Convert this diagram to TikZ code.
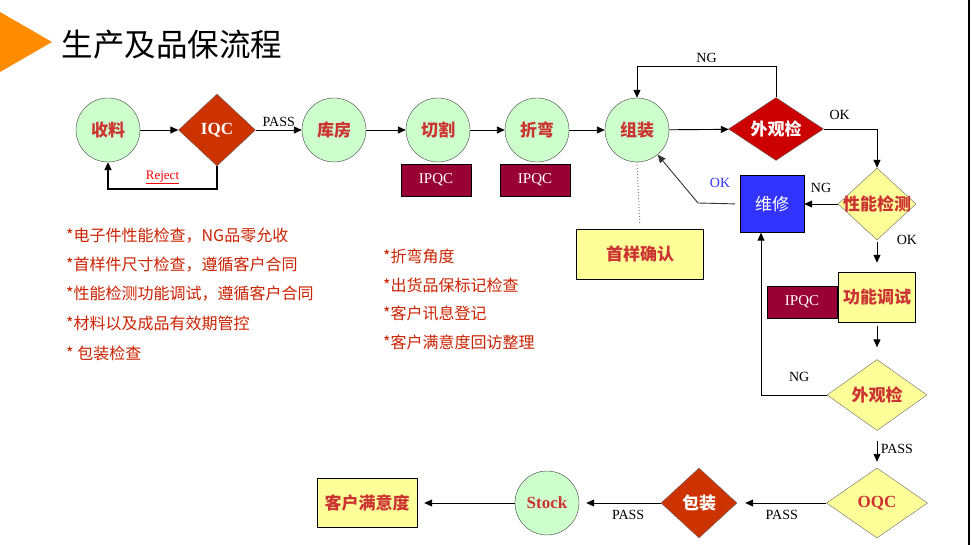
\documentclass[tikz,border=0pt]{standalone}
\usepackage{fontspec}
\setmainfont{Liberation Serif}
\newfontfamily\cjk{Noto Sans CJK SC}
\usetikzlibrary{shapes.geometric,arrows.meta}

\definecolor{titleorange}{HTML}{FF8C00}
\definecolor{stationgreen}{HTML}{CCFFCC}
\definecolor{nodered}{HTML}{CC3333}
\definecolor{rustred}{HTML}{CC3300}
\definecolor{brightred}{HTML}{CC0000}
\definecolor{paleyellow}{HTML}{FFFF99}
\definecolor{repairblue}{HTML}{3333FF}
\definecolor{ipqcred}{HTML}{990033}
\definecolor{notered}{HTML}{CC2200}
\definecolor{rejectred}{HTML}{FF0000}

\begin{document}
\begin{tikzpicture}[x=1pt, y=-1pt,
    arr/.style={-{Triangle[length=8pt,width=7pt]}, line width=0.9pt},
    station/.style={circle, draw=black!75, fill=stationgreen, minimum size=64pt, inner sep=0pt,
        text=nodered, font=\cjk\bfseries\fontsize{17}{17}\selectfont},
    decision/.style={diamond, draw=black!60, inner sep=0pt,
        text=nodered, font=\cjk\bfseries\fontsize{17}{17}\selectfont},
    box/.style={rectangle, draw=black, inner sep=0pt,
        text=nodered, font=\cjk\bfseries\fontsize{17}{17}\selectfont},
    ipqc/.style={rectangle, draw=black, fill=ipqcred, minimum width=70pt, minimum height=32pt,
        inner sep=0pt, text=white, font=\fontsize{15}{15}\selectfont},
    lab/.style={font=\fontsize{14}{14}\selectfont},
    note/.style={anchor=west, inner sep=0pt, text=notered, font=\cjk\fontsize{16}{16}\selectfont}]
                    % Frame
                    \fill[white] (0,0) rectangle (971,545);
                    \useasboundingbox (0,0) rectangle (971,545);
                    \fill[titleorange] (0,12) -- (52,42) -- (0,72) -- cycle;
                    \draw[line width=1.5pt] (969,0) -- (969,545);
                    \node[anchor=west, font=\cjk\fontsize{31.5}{31.5}\selectfont] (title) at (58,45) {生产及品保流程};
                    % Nodes
                    \node[station] (shouliao) at (108,130) {收料};
                    \node[decision, fill=rustred, minimum width=77pt, minimum height=72pt, text=white,
                        font=\bfseries\fontsize{17}{17}\selectfont] (iqc) at (217,130) {\makebox[0pt]{IQC}};
                    \node[station] (kufang) at (334,130) {库房};
                    \node[station] (qiege) at (438,130) {切割};
                    \node[station] (zhewan) at (537,130) {折弯};
                    \node[station] (zuzhuang) at (637,130) {组装};
                    \node[ipqc] (ipqca) at (436,180) {IPQC};
                    \node[ipqc] (ipqcb) at (535,180) {IPQC};
                    \node[decision, fill=brightred, minimum width=95pt, minimum height=63pt, text=white] (waiguan) at (776,129) {\makebox[0pt]{外观检}};
                    \node[decision, fill=paleyellow, minimum width=78pt, minimum height=72pt] (xingneng) at (877,204) {\makebox[0pt]{性能检测}};
                    \node[box, fill=repairblue, minimum width=64pt, minimum height=57pt, text=white,
                        font=\cjk\fontsize{17}{17}\selectfont] (weixiu) at (772,204) {维修};
                    \node[box, fill=paleyellow, minimum width=127pt, minimum height=50pt] (shouyang) at (640,254) {首样确认};
                    \node[box, fill=paleyellow, minimum width=77pt, minimum height=50pt] (gongneng) at (877,297) {功能调试};
                    \node[ipqc] (ipqcc) at (802,302) {IPQC};
                    \node[decision, fill=paleyellow, minimum width=100pt, minimum height=71pt] (waiguanb) at (877,395) {\makebox[0pt]{外观检}};
                    \node[decision, fill=paleyellow, minimum width=101pt, minimum height=70pt,
                        font=\bfseries\fontsize{17}{17}\selectfont] (oqc) at (877,503) {\makebox[0pt]{OQC}};
                    \node[decision, fill=rustred, minimum width=76pt, minimum height=70pt, text=white] (baozhuang) at (699,503) {\makebox[0pt]{包装}};
                    \node[station, font=\bfseries\fontsize{17}{17}\selectfont] (stock) at (547,503) {Stock};
                    \node[box, fill=paleyellow, minimum width=100pt, minimum height=49pt] (manyi) at (367,503) {客户满意度};
                    \coordinate (okbend) at (698,203);
                    \node[lab, text=repairblue] (okrepair) at (720,183) {OK};
                    % Notes
                    \node[note] (notea) at (66,236) {*电子件性能检查，NG品零允收};
                    \node[note] (noteb) at (66,265) {*首样件尺寸检查，遵循客户合同};
                    \node[note] (notec) at (66,294) {*性能检测功能调试，遵循客户合同};
                    \node[note] (noted) at (66,323) {*材料以及成品有效期管控};
                    \node[note] (notee) at (66,353) {* 包装检查};
                    \node[note] (notef) at (383,256) {*折弯角度};
                    \node[note] (noteg) at (383,285) {*出货品保标记检查};
                    \node[note] (noteh) at (383,313) {*客户讯息登记};
                    \node[note] (notei) at (383,342) {*客户满意度回访整理};
                    % Edges
                    \draw[arr] (shouliao) -- (iqc);
                    \draw[arr, line width=1.8pt] (iqc.south) -- ++(0,23) -| node[pos=0.25, above, yshift=1pt, text=rejectred,
                        font=\fontsize{13}{13}\selectfont] {\underline{Reject}} (shouliao.south);
                    \draw[arr] (iqc) -- node[lab, above] {PASS} (kufang);
                    \draw[arr] (kufang) -- (qiege);
                    \draw[arr] (qiege) -- (zhewan);
                    \draw[arr] (zhewan) -- (zuzhuang);
                    \draw[arr] (zuzhuang) -- (waiguan);
                    \draw[arr] (waiguan.north) -- ++(0,-31) -| node[lab, pos=0.25, above] {NG} (zuzhuang.north);
                    \draw[arr] (waiguan.east) -| node[lab, pos=0.15, above=6pt] {OK} (xingneng.north);
                    \draw[arr] (xingneng.west) -- node[lab, above=8pt] {NG} (weixiu.east);
                    \draw[arr, draw=black!80, shorten <=5pt] (weixiu.west) -- (okbend) -- (zuzhuang);
                    \draw[dotted, line width=1pt, black!50, shorten >=4pt] (zuzhuang.south) -- (shouyang.north);
                    \draw[arr, shorten <=2pt, shorten >=9pt] (xingneng.south) -- node[lab, pos=0, right=16pt] {OK} (gongneng.north);
                    \draw[arr, shorten <=4pt, shorten >=12pt] (gongneng.south) -- (waiguanb.north);
                    \draw[arr] (waiguanb.west) -| node[lab, pos=0.21, above=10pt] {NG} ([xshift=-11pt]weixiu.south);
                    \draw[arr, shorten <=10pt, shorten >=6pt] (waiguanb.south) -- node[lab, right] {PASS} (oqc.north);
                    \draw[arr, shorten >=8pt] (oqc.west) -- node[lab, below=3pt] {PASS} (baozhuang.east);
                    \draw[arr, shorten >=7pt] (baozhuang.west) -- node[lab, pos=0.4, below=3pt] {PASS} (stock.east);
                    \draw[arr, shorten >=7pt] (stock) -- (manyi);
                \end{tikzpicture}
\end{document}
